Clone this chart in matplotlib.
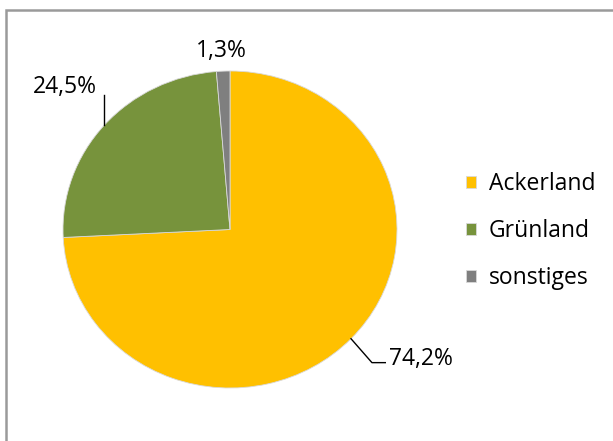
import numpy as np
import matplotlib.pyplot as plt
from matplotlib.patches import Rectangle

labels = ["Ackerland", "Grünland", "sonstiges"]
shares = [74.2, 24.5, 1.3]
pct_text = ["74,2%", "24,5%", "1,3%"]
colors = ["#FFC000", "#77933C", "#7F7F7F"]

plt.rcParams["font.family"] = ["Open Sans", "DejaVu Sans"]
fs = 16.5

W, H = 613, 441
fig = plt.figure(figsize=(W / 100, H / 100), dpi=100)

# chart frame (only left and top edges are visible in the crop)
fig.patches.append(Rectangle((6 / W, -0.5), 2, (431 / H) + 0.5, transform=fig.transFigure,
                             fill=False, edgecolor="#9a9a9a", linewidth=1.8))

ax = fig.add_axes([63 / W, (H - 388) / H, 334 / W, 317 / H])
wedges, _ = ax.pie(shares, colors=colors, startangle=90, counterclock=False,
                   wedgeprops=dict(edgecolor="#d9d9d9", linewidth=0.6))
ax.set_aspect("auto")
ax.set_xlim(-1, 1)
ax.set_ylim(-1, 1)
ax.axis("off")

# data labels
w = wedges[0]
a = np.deg2rad((w.theta1 + w.theta2) / 2)
ax.plot([np.cos(a), 0.85, 0.93], [np.sin(a), -0.84, -0.84], color="black", lw=1, clip_on=False)
ax.text(0.955, -0.82, pct_text[0], ha="left", va="center", fontsize=fs, clip_on=False)

w = wedges[1]
a = np.deg2rad((w.theta1 + w.theta2) / 2)
ax.plot([np.cos(a), np.cos(a)], [np.sin(a), 0.85], color="black", lw=1, clip_on=False)
ax.text(-0.99, 0.90, pct_text[1], ha="center", va="center", fontsize=fs, clip_on=False)

ax.text(-0.054, 1.125, pct_text[2], ha="center", va="center", fontsize=fs, clip_on=False)

fig.legend(wedges, labels, loc="center left", bbox_to_anchor=(466 / W, (H - 231) / H),
           frameon=False, fontsize=fs, handlelength=0.45, handleheight=0.45,
           handletextpad=0.55, labelspacing=1.0, borderpad=0, borderaxespad=0)

fig.savefig("out.png", dpi=100)
